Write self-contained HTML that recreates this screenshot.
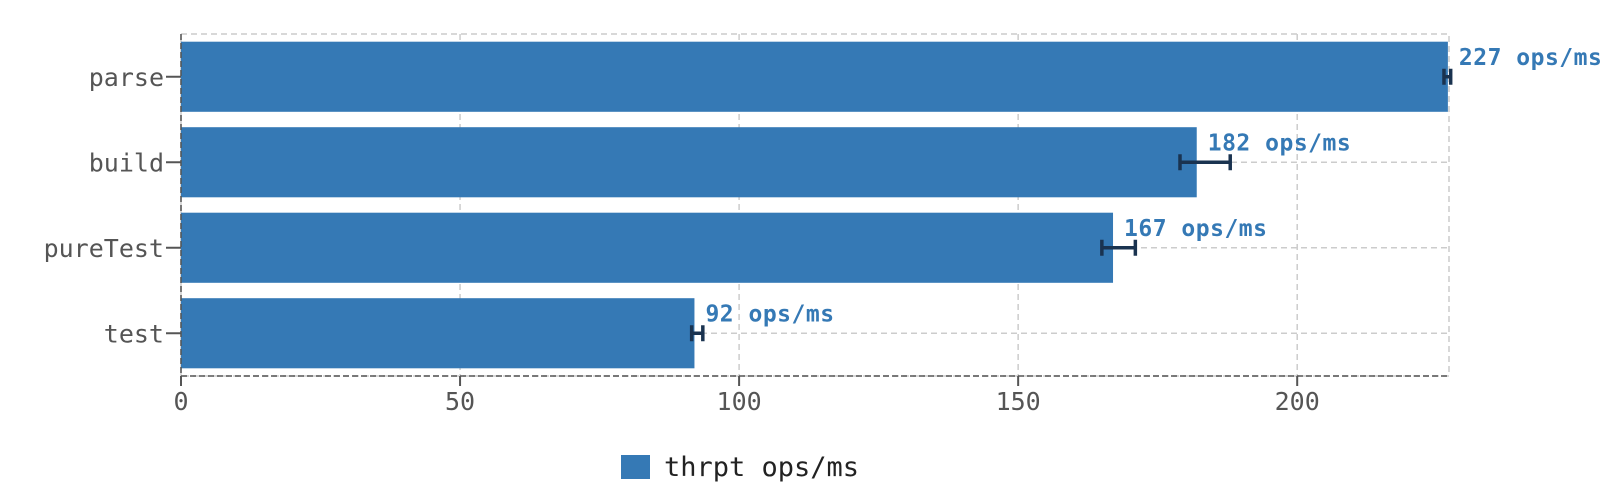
<!DOCTYPE html>
<html><head><meta charset="utf-8"><style>
body{margin:0;background:#fff}
svg{display:block;font-family:"DejaVu Sans Mono","Liberation Mono",monospace}
</style></head><body>
<svg id="c" width="1620" height="498"></svg>
<script>
const categories=["parse","build","pureTest","test"];
const values=[227,182,167,92];
const errLow=[226.3,179,165,91.5];
const errHigh=[227.5,188,171,93.5];
const xTicks=[0,50,100,150,200];
const labels=["227 ops/ms","182 ops/ms","167 ops/ms","92 ops/ms"];
const L=181,R=1449,T=34,B=376,XMAX=227.2;
const svg=document.getElementById('c');
const NS='http://www.w3.org/2000/svg';
function x(v){return L+(v/XMAX)*(R-L);}
const band=(B-T)/categories.length;
function y(i){return T+band*i;}
function mk(t,a,p){const e=document.createElementNS(NS,t);for(const k in a)e.setAttribute(k,a[k]);(p||svg).appendChild(e);return e;}
xTicks.forEach(v=>{
 const g=mk('line',{x1:x(v),x2:x(v),y1:T,y2:B,stroke:'#ccc','stroke-dasharray':'6,4','stroke-width':1.5});
 
 
});
categories.forEach((c,i)=>{
 const cy=y(i)+band/2;
 const g=mk('line',{x1:L,x2:R,y1:cy,y2:cy,stroke:'#ccc','stroke-dasharray':'6,4','stroke-width':1.5});
 
 
});
const fr=mk('rect',{x:L,y:T,width:R-L,height:B-T,fill:'none',stroke:'#ccc','stroke-dasharray':'6,4','stroke-width':1.5});


categories.forEach((c,i)=>{
 const pad=band*0.09;
 const b=mk('rect',{x:L,y:y(i)+pad,width:x(values[i])-L,height:band-2*pad,fill:'#3579b5'});
 
 
 const cy=y(i)+band/2;
 const eg=mk('g',{stroke:'#1a3350','stroke-width':3.5});
 
 
 mk('line',{x1:x(errLow[i]),x2:x(errHigh[i]),y1:cy,y2:cy},eg);
 mk('line',{x1:x(errLow[i]),x2:x(errLow[i]),y1:cy-8,y2:cy+8},eg);
 mk('line',{x1:x(errHigh[i]),x2:x(errHigh[i]),y1:cy-8,y2:cy+8},eg);
 const vl=mk('text',{x:x(values[i])+11,y:cy-12,fill:'#3579b5','font-size':23,'font-weight':'bold','letter-spacing':'0.5'});
 vl.textContent=labels[i];
 
 
 const tk=mk('line',{x1:L-15,x2:L,y1:cy,y2:cy,stroke:'#555','stroke-width':2});
 
 
 const yl=mk('text',{x:L-17,y:cy+9,fill:'#555','font-size':25,'text-anchor':'end'});
 yl.textContent=c;
 
 
});
const ya=mk('line',{x1:L,x2:L,y1:T,y2:B,stroke:'#555','stroke-width':1.5,'stroke-dasharray':'6,3'});


const xa=mk('line',{x1:L,x2:R,y1:B,y2:B,stroke:'#555','stroke-width':1.5,'stroke-dasharray':'6,3'});


xTicks.forEach(v=>{
 const t=mk('line',{x1:x(v),x2:x(v),y1:B,y2:B+10,stroke:'#555','stroke-width':2});
 
 
 const l=mk('text',{x:x(v),y:B+34,fill:'#555','font-size':25,'text-anchor':'middle'});
 l.textContent=v;
 
 
});
const lg=mk('g',{});


mk('rect',{x:621,y:455,width:29,height:24,fill:'#3579b5'},lg);
const lt=mk('text',{x:664,y:476,fill:'#222','font-size':27},lg);
lt.textContent='thrpt ops/ms';
</script>
</body></html>
